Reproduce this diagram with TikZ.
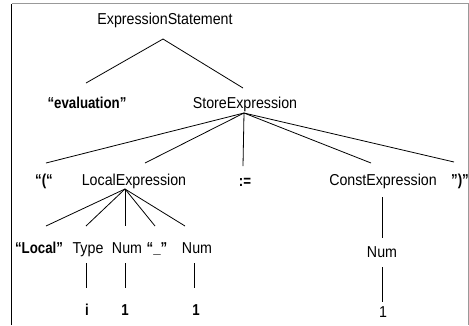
\documentclass[tikz,border=0pt]{standalone}
\usepackage{fontspec}
\setmainfont{Liberation Sans}[FakeStretch=0.9,BoldFeatures={FakeStretch=0.84}]
\begin{document}
\begin{tikzpicture}[x=1pt,y=-1pt,
  lbl/.style={anchor=base,inner sep=0pt,font=\fontsize{15.8}{18}\selectfont},
  blbl/.style={lbl,font=\fontsize{15.8}{18}\selectfont\bfseries},
  edge/.style={line width=0.8pt}]
\useasboundingbox (0,0) rectangle (469,325);
% frame
\draw[black,line width=1.2pt] (11.5,325) -- (11.5,3.5);
\draw[gray!80,line width=1pt] (11.5,3.5) -- (468.3,3.5) -- (468.3,325);
% nodes
\node[lbl]  (es) at (165,24.7) {ExpressionStatement};
\node[blbl] (ev) at (87,108) {“evaluation”};
\node[lbl]  (se) at (245,108) {StoreExpression};
\node[blbl] (lp) at (44,185) {“(“};
\node[lbl]  (le) at (134,185) {LocalExpression};
\node[blbl] (as) at (245,186) {:=};
\node[lbl]  (ce) at (383,185) {ConstExpression};
\node[blbl] (rp) at (460,185) {”)”};
\node[blbl] (lo) at (39,253) {“Local”};
\node[lbl]  (ty) at (88,253) {Type};
\node[lbl]  (n1) at (127,253) {Num};
\node[blbl] (us) at (157,253) {“\_”};
\node[lbl]  (n2) at (197,253) {Num};
\node[lbl]  (n3) at (382,257) {Num};
\node[blbl] (vi) at (87,315) {i};
\node[blbl] (v1) at (125,315) {1};
\node[blbl] (v2) at (196,315) {1};
\node[lbl]  (v3) at (383,317) {1};
% ports
\coordinate (es-b) at (163,39);
\coordinate (ev-t) at (86,83);
\coordinate (se-t) at (243,88);
\coordinate (se-b) at (244,113);
\coordinate (lp-t) at (46,163);
\coordinate (le-t) at (145,163);
\coordinate (as-t) at (243,166);
\coordinate (ce-t) at (371,163);
\coordinate (rp-t) at (454,162);
\coordinate (le-b) at (125,189);
\coordinate (lo-t) at (46,226);
\coordinate (ty-t) at (86,226);
\coordinate (n1-t) at (125,226);
\coordinate (us-t) at (155,226);
\coordinate (n2-t) at (185,226);
\coordinate (ce-b) at (382,197);
\coordinate (n3-t) at (382,238);
\coordinate (ty-b) at (86,263);
\coordinate (vi-t) at (86,288);
\coordinate (n1-b) at (125,263);
\coordinate (v1-t) at (125,288);
\coordinate (n2-b) at (194,263);
\coordinate (v2-t) at (194,288);
\coordinate (n3-b) at (382,267);
\coordinate (v3-t) at (382,302);
% edges
\draw[edge] (es-b) -- (ev-t);
\draw[edge] (es-b) -- (se-t);
\foreach \c in {lp,le,as,ce,rp} \draw[edge] (se-b) -- (\c-t);
\foreach \c in {lo,ty,n1,us,n2} \draw[edge] (le-b) -- (\c-t);
\draw[edge] (ce-b) -- (n3-t);
\draw[edge] (ty-b) -- (vi-t);
\draw[edge] (n1-b) -- (v1-t);
\draw[edge] (n2-b) -- (v2-t);
\draw[edge] (n3-b) -- (v3-t);
\end{tikzpicture}
\end{document}
